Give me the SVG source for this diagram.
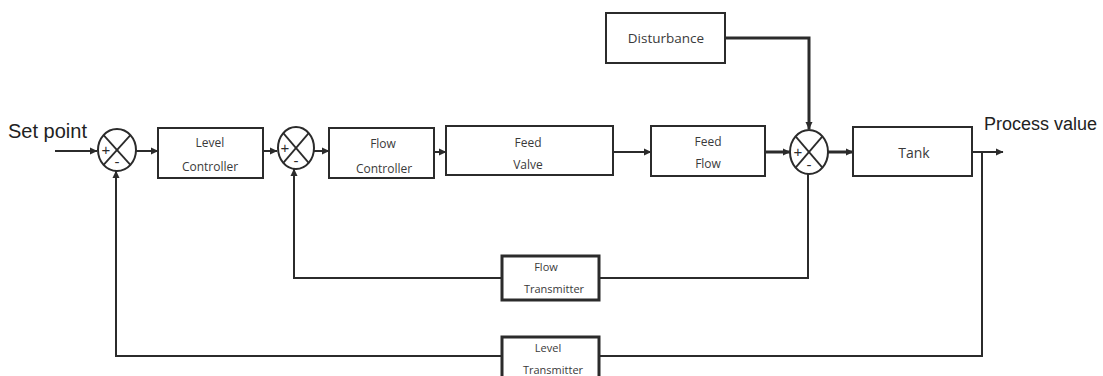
<svg xmlns="http://www.w3.org/2000/svg" width="1103" height="376" viewBox="0 0 1103 376">
<style>
.box{fill:#fff;stroke:#2b2b2b;stroke-width:2}
.tbox{fill:#fff;stroke:#2b2b2b;stroke-width:3}
.sum{fill:#fff;stroke:#2b2b2b;stroke-width:2}
.x{stroke:#2b2b2b;stroke-width:1.8}
.ln{fill:none;stroke:#2b2b2b;stroke-width:2}
.thick{fill:none;stroke:#2b2b2b;stroke-width:3}
.lbl{font-family:"Open Sans","Noto Sans",sans-serif;font-size:12px;fill:#3a3a3a;text-anchor:middle}
.big{font-family:"Liberation Sans",Arial,sans-serif;font-size:20px;fill:#222}
.sign{font-family:"Liberation Sans",Arial,sans-serif;font-size:15px;fill:#2b2b2b;text-anchor:middle}
</style>
<defs>
<marker id="ah" markerWidth="8" markerHeight="8" refX="7" refY="4" orient="auto" markerUnits="userSpaceOnUse">
<path d="M0,0.5 L7.5,4 L0,7.5 Z" fill="#2b2b2b"/>
</marker>
</defs>
<rect width="1103" height="376" fill="#fff"/>

<g id="connectors">
<line class="ln" x1="55" y1="151" x2="97" y2="151" marker-end="url(#ah)"/>
<line class="ln" x1="136" y1="151" x2="158" y2="151" marker-end="url(#ah)"/>
<line class="ln" x1="263" y1="151" x2="277" y2="151" marker-end="url(#ah)"/>
<line class="ln" x1="314" y1="151" x2="329" y2="151" marker-end="url(#ah)"/>
<line class="ln" x1="434" y1="152" x2="446" y2="152" marker-end="url(#ah)"/>
<line class="ln" x1="613" y1="152" x2="651" y2="152" marker-end="url(#ah)"/>
<line class="thick" x1="765" y1="152" x2="790" y2="152" marker-end="url(#ah)"/>
<line class="thick" x1="828" y1="152" x2="853" y2="152" marker-end="url(#ah)"/>
<polyline class="thick" points="725,38 809,38 809,129" marker-end="url(#ah)"/>
<line class="ln" x1="972" y1="152" x2="1003" y2="152" marker-end="url(#ah)"/>
<polyline class="ln" points="808,173 808,278 599,278"/>
<polyline class="ln" points="502,278 294,278 294,169" marker-end="url(#ah)"/>
<polyline class="ln" points="982,152 982,356 599,356"/>
<polyline class="ln" points="502,356 116,356 116,171" marker-end="url(#ah)"/>
</g>

<g id="setpoint"><text class="big" x="8" y="138">Set point</text></g>
<g id="processvalue"><text class="big" x="984" y="130" style="font-size:18px">Process value</text></g>

<g id="sum1">
<ellipse class="sum" cx="117" cy="150" rx="19" ry="21"/>
<line class="x" x1="103.6" y1="135.2" x2="130.4" y2="164.8"/>
<line class="x" x1="130.4" y1="135.2" x2="103.6" y2="164.8"/>
<text class="sign" x="106" y="155">+</text>
<text class="sign" x="117" y="167">-</text>
</g>

<g id="levelcontroller">
<rect class="box" x="158" y="128" width="105" height="50"/>
<text class="lbl" x="210" y="147">Level</text>
<text class="lbl" x="210" y="171">Controller</text>
</g>

<g id="sum2">
<ellipse class="sum" cx="296" cy="148" rx="18" ry="21"/>
<line class="x" x1="283.3" y1="133.2" x2="308.7" y2="162.8"/>
<line class="x" x1="308.7" y1="133.2" x2="283.3" y2="162.8"/>
<text class="sign" x="285" y="153">+</text>
<text class="sign" x="296" y="166">-</text>
</g>

<g id="flowcontroller">
<rect class="box" x="329" y="128" width="105" height="50"/>
<text class="lbl" x="383" y="148">Flow</text>
<text class="lbl" x="384" y="173">Controller</text>
</g>

<g id="feedvalve">
<rect class="box" x="446" y="126" width="167" height="49"/>
<text class="lbl" x="528" y="147">Feed</text>
<text class="lbl" x="528" y="169">Valve</text>
</g>

<g id="disturbance">
<rect class="box" x="606" y="13" width="119" height="50"/>
<text class="lbl" x="666" y="43" style="font-size:13.5px">Disturbance</text>
</g>

<g id="feedflow">
<rect class="box" x="651" y="126" width="114" height="50"/>
<text class="lbl" x="708" y="146">Feed</text>
<text class="lbl" x="708" y="168">Flow</text>
</g>

<g id="sum3">
<ellipse class="sum" cx="809" cy="152" rx="19" ry="22"/>
<line class="x" x1="795.6" y1="136.4" x2="822.4" y2="167.6"/>
<line class="x" x1="822.4" y1="136.4" x2="795.6" y2="167.6"/>
<text class="sign" x="798" y="157">+</text>
<text class="sign" x="809" y="170">-</text>
</g>

<g id="tank">
<rect class="box" x="853" y="127" width="119" height="49"/>
<text class="lbl" x="914" y="158" style="font-size:14px">Tank</text>
</g>

<g id="flowtransmitter">
<rect class="tbox" x="502" y="256" width="97" height="44"/>
<text class="lbl" x="546" y="271" style="font-size:11px">Flow</text>
<text class="lbl" x="554" y="293" style="font-size:11px">Transmitter</text>
</g>

<g id="leveltransmitter">
<rect class="tbox" x="502" y="337" width="97" height="44"/>
<text class="lbl" x="548" y="352" style="font-size:11px">Level</text>
<text class="lbl" x="553" y="374" style="font-size:11px">Transmitter</text>
</g>
</svg>
